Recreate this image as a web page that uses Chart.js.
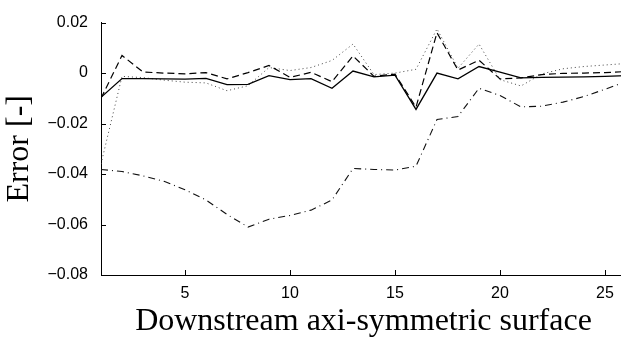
<!DOCTYPE html>
<html>
<head>
<meta charset="utf-8">
<script src="https://cdn.jsdelivr.net/npm/chart.js@4"></script>
<style>
  html, body { margin: 0; padding: 0; background: #fff; overflow: hidden; }
  #wrap { width: 640px; height: 345px; }
</style>
</head>
<body>
<div id="wrap"><canvas id="myChart" width="640" height="345"></canvas></div>
<script>
// surfaces along the downstream direction
var surfaces = [1, 2, 3, 4, 5, 6, 7, 8, 9, 10, 11, 12, 13, 14, 15, 16, 17, 18, 19, 20, 21, 22, 23, 24, 25, 26];

// error per surface for each case
var errSolid = [-0.0096, -0.0022, -0.0022, -0.0023, -0.0024, -0.0021, -0.0046, -0.0045, -0.0010, -0.0026, -0.0022, -0.0060, 0.0008,
                -0.0015, -0.0008, -0.0144, 0.0000, -0.0023, 0.0026, 0.0004, -0.0019, -0.0017, -0.0016, -0.0015, -0.0013, -0.0010];
var errDashed = [-0.0100, 0.0070, 0.0004, 0.0000, -0.0003, 0.0002, -0.0023, 0.0002, 0.0030, -0.0017, 0.0003, -0.0034, 0.0068,
                 -0.0013, -0.0004, -0.0135, 0.0160, 0.0012, 0.0051, -0.0023, -0.0019, -0.0006, -0.0001, 0.0000, 0.0002, 0.0006];
var errDotted = [-0.0360, -0.0013, -0.0018, -0.0028, -0.0036, -0.0039, -0.0070, -0.0050, 0.0022, 0.0010, 0.0022, 0.0050, 0.0115,
                 -0.0006, 0.0000, 0.0015, 0.0175, 0.0019, 0.0115, -0.0026, -0.0051, -0.0003, 0.0017, 0.0026, 0.0032, 0.0038];
var errDashDot = [-0.0382, -0.0390, -0.0407, -0.0429, -0.0462, -0.0503, -0.0560, -0.0610, -0.0579, -0.0564, -0.0543, -0.0503, -0.0378,
                  -0.0382, -0.0384, -0.0369, -0.0184, -0.0172, -0.0060, -0.0089, -0.0134, -0.0131, -0.0115, -0.0093, -0.0064, -0.0034];

var xTicks = [5, 10, 15, 20, 25];
var yTicks = [-0.08, -0.06, -0.04, -0.02, 0, 0.02];

function toPoints(values) {
    return surfaces.map(function (s, i) { return { x: s, y: values[i] }; });
}

function makeSet(label, values, color, width, dash) {
    return {
        label: label,
        data: toPoints(values),
        borderColor: color,
        borderWidth: width,
        borderDash: dash,
        pointRadius: 0,
        tension: 0,
        fill: false
    };
}

// ticks drawn inside the axes
var innerTicks = {
    id: 'innerTicks',
    afterDraw: function (chart) {
        var ctx = chart.ctx;
        var xs = chart.scales.x, ys = chart.scales.y;
        var area = chart.chartArea;
        ctx.save();
        ctx.strokeStyle = '#000';
        ctx.lineWidth = 1;
        ctx.beginPath();
        xTicks.forEach(function (v) {
            var px = Math.round(xs.getPixelForValue(v)) + 0.5;
            ctx.moveTo(px, area.bottom);
            ctx.lineTo(px, area.bottom - 5);
        });
        yTicks.forEach(function (v) {
            var py = Math.round(ys.getPixelForValue(v)) + 0.5;
            ctx.moveTo(area.left, py);
            ctx.lineTo(area.left + 5, py);
        });
        ctx.stroke();
        ctx.restore();
    }
};

var ctx = document.getElementById('myChart').getContext('2d');
new Chart(ctx, {
    type: 'line',
    data: {
        datasets: [
            makeSet('solid', errSolid, '#000', 1.3, []),
            makeSet('dashed', errDashed, '#000', 1.2, [7, 4]),
            makeSet('dotted', errDotted, '#444', 1, [1, 3]),
            makeSet('dash-dot', errDashDot, '#111', 1.1, [7, 4, 1, 4])
        ]
    },
    options: {
        responsive: false,
        animation: false,
        layout: { padding: { top: 13, right: 14, left: 0, bottom: 0 } },
        plugins: { legend: { display: false }, tooltip: { enabled: false } },
        scales: {
            x: {
                type: 'linear',
                min: 1,
                max: 26,
                afterBuildTicks: function (scale) {
                    scale.ticks = xTicks.map(function (v) { return { value: v }; });
                },
                afterFit: function (scale) { scale.height = 70; },
                grid: { display: false, drawTicks: false },
                border: { display: true, color: '#000', width: 1 },
                ticks: {
                    color: '#000',
                    padding: 9,
                    maxRotation: 0,
                    font: { family: 'Liberation Sans', size: 16 }
                },
                title: {
                    display: true,
                    text: 'Downstream axi-symmetric surface',
                    color: '#000',
                    padding: { top: 0, bottom: 4 },
                    font: { family: 'Liberation Serif', size: 32 }
                }
            },
            y: {
                min: -0.08,
                max: 0.02,
                afterBuildTicks: function (scale) {
                    scale.ticks = yTicks.map(function (v) { return { value: v }; });
                },
                afterFit: function (scale) { scale.width = 101; },
                grid: { display: false, drawTicks: false },
                border: { display: true, color: '#000', width: 1 },
                ticks: {
                    color: '#000',
                    padding: 13,
                    font: { family: 'Liberation Sans', size: 16 },
                    callback: function (v) {
                        if (Math.abs(v) < 1e-9) return '0';
                        return (v < 0 ? '\u2212' : '') + Math.abs(v).toFixed(2);
                    }
                },
                title: {
                    display: true,
                    text: 'Error [-]',
                    color: '#000',
                    padding: { top: 0, bottom: 0 },
                    font: { family: 'Liberation Serif', size: 32 }
                }
            }
        }
    },
    plugins: [innerTicks]
});
</script>
</body>
</html>
